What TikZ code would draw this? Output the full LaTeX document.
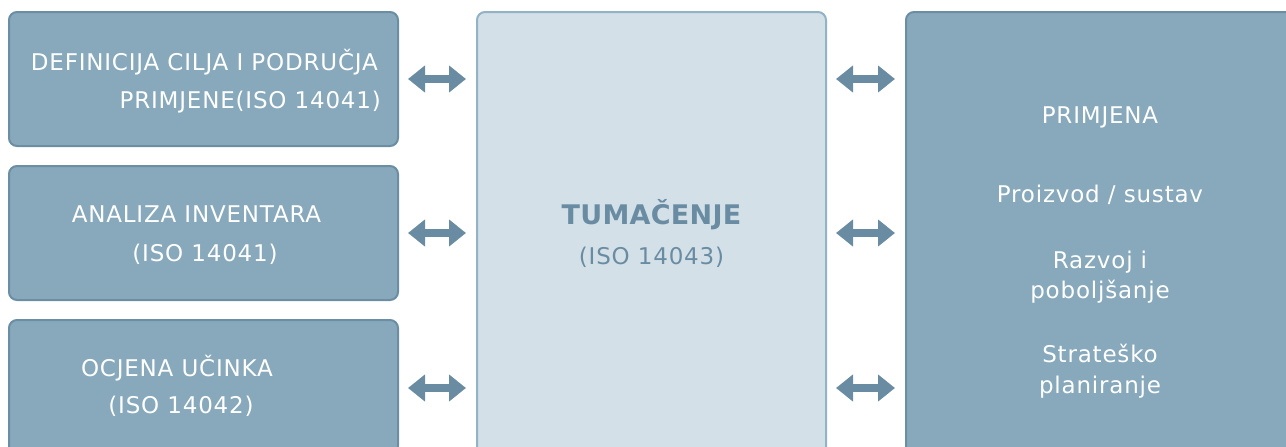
\documentclass[tikz,border=0pt]{standalone}
\usepackage{fontspec}
\setmainfont{DejaVu Sans}[LetterSpace=3.5]
\newfontfamily\titlefont{DejaVu Sans}[LetterSpace=1]
\usetikzlibrary{arrows.meta,calc}
\definecolor{boxfill}{HTML}{87A9BB}
\definecolor{boxline}{HTML}{6B8EA4}
\definecolor{cfill}{HTML}{D3E0E8}
\definecolor{cline}{HTML}{92B2C6}
\definecolor{arr}{HTML}{6A8CA2}
\begin{document}
\begin{tikzpicture}[x=1pt,y=-1pt,
  dbox/.style={draw=boxline, fill=boxfill, line width=2pt, rounded corners=8pt, rectangle, inner sep=0pt},
  cbox/.style={draw=cline, fill=cfill, line width=2pt, rounded corners=8pt, rectangle, inner sep=0pt},
  wtxt/.style={text=white, font=\fontsize{23}{27}\selectfont, inner sep=0pt, anchor=base},
  ctxt/.style={text=arr, font=\fontsize{23}{27}\selectfont, inner sep=0pt, anchor=base},
  dbl/.style={draw=arr, line width=8pt, {Triangle[width=26pt,length=17pt]}-{Triangle[width=26pt,length=17pt]}}
]
\useasboundingbox (0,0) rectangle (1286,447);
\begin{scope}
\clip (0,0) rectangle (1286,447);
\node[dbox, minimum width=389pt, minimum height=134pt] (b1) at (203.5,79) {};
\node[dbox, minimum width=389pt, minimum height=134pt] (b2) at (203.5,233) {};
\node[dbox, minimum width=389pt, minimum height=134pt] (b3) at (203.5,387) {};
\node[cbox, minimum width=349pt, minimum height=448pt] (c) at (651.5,236) {};
\node[dbox, minimum width=394pt, minimum height=448pt] (r) at (1103,236) {};
\end{scope}
% left texts
\node[wtxt, anchor=base east] (t11) at (378,70) {DEFINICIJA CILJA I PODRUČJA};
\node[wtxt, anchor=base east] (t12) at (381,108) {PRIMJENE(ISO 14041)};
\node[wtxt] (t21) at (196.5,222) {ANALIZA INVENTARA};
\node[wtxt] (t22) at (205,261) {(ISO 14041)};
\node[wtxt] (t31) at (177,376) {OCJENA UČINKA};
\node[wtxt] (t32) at (181,413) {(ISO 14042)};
% center texts
\node[ctxt, font=\titlefont\fontsize{27}{32}\selectfont\bfseries] (tc1) at (651.5,224) {TUMAČENJE};
\node[ctxt] (tc2) at (651.5,264) {(ISO 14043)};
% right texts
\node[wtxt] (r1) at (1100,123) {PRIMJENA};
\node[wtxt] (r2) at (1100,202) {Proizvod / sustav};
\node[wtxt] (r3) at (1100,268) {Razvoj i};
\node[wtxt] (r4) at (1100,298) {poboljšanje};
\node[wtxt] (r5) at (1100,362) {Strateško};
\node[wtxt] (r6) at (1100,393) {planiranje};
% arrows
\draw[dbl] ($(b1.east)+(9,0)$) -- ($(c.west |- b1.east)+(-10,0)$);
\draw[dbl] ($(b2.east)+(9,0)$) -- ($(c.west |- b2.east)+(-10,0)$);
\draw[dbl] ($(b3.east)+(9,1)$) -- ($(c.west |- b3.east)+(-10,1)$);
\draw[dbl] ($(c.east |- b1.east)+(9,0)$) -- ($(r.west |- b1.east)+(-10,0)$);
\draw[dbl] ($(c.east |- b2.east)+(9,0)$) -- ($(r.west |- b2.east)+(-10,0)$);
\draw[dbl] ($(c.east |- b3.east)+(9,1)$) -- ($(r.west |- b3.east)+(-10,1)$);
\end{tikzpicture}
\end{document}
